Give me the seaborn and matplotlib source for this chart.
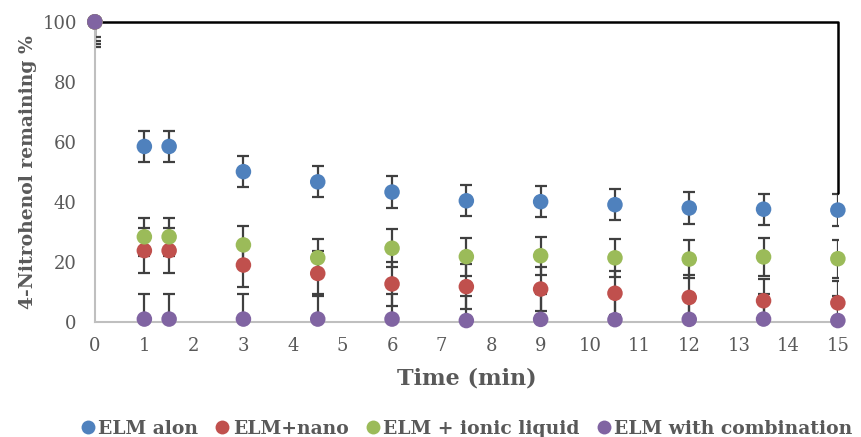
import matplotlib
matplotlib.use("Agg")
import matplotlib.pyplot as plt
import seaborn as sns
import pandas as pd
import numpy as np

# Sampling times (min)
time_min = [0, 1, 1.5, 3, 4.5, 6, 7.5, 9, 10.5, 12, 13.5, 15]

# Remaining 4-nitrophenol (%) for each membrane system
elm_alone = [100, 58.5, 58.5, 50.1, 46.7, 43.3, 40.4, 40.1, 39.1, 38.0, 37.6, 37.3]
elm_nano = [100, 23.8, 23.8, 19.0, 16.2, 12.7, 11.8, 11.0, 9.6, 8.2, 7.1, 6.4]
elm_ionic = [100, 28.4, 28.4, 25.7, 21.4, 24.6, 21.8, 22.1, 21.4, 21.0, 21.7, 21.1]
elm_combo = [100, 1.0, 1.0, 1.0, 1.0, 1.0, 0.5, 0.9, 0.8, 0.9, 1.0, 0.5]

# Error bar half-widths (one value per series)
err_alone = 5.2
err_nano = 7.4
err_ionic = 6.3
err_combo = 8.3

series_names = ["ELM alon", "ELM+nano", "ELM + ionic liquid", "ELM with combination"]
series_colors = ["#4F81BD", "#C0504D", "#9BBB59", "#8064A2"]

# Outline line drawn from the starting point
outline_x = [0, 15, 15]
outline_y = [100, 100, 43]

x_ticks = list(range(0, 16))
y_ticks = [0, 20, 40, 60, 80, 100]

values = [elm_alone, elm_nano, elm_ionic, elm_combo]
errors = [err_alone, err_nano, err_ionic, err_combo]

df = pd.concat(
    [pd.DataFrame({"time": time_min, "remaining": v, "system": n, "err": e})
     for v, n, e in zip(values, series_names, errors)],
    ignore_index=True,
)

sns.set_theme(style="white")
plt.rcParams["font.family"] = ["DejaVu Serif"]
text_color = "#595959"

fig = plt.figure(figsize=(8.62, 4.37), dpi=100)
ax = fig.add_axes([0.110, 0.263, 0.862, 0.687])

for name in series_names:
    sub = df[df["system"] == name]
    ax.errorbar(sub["time"], sub["remaining"], yerr=sub["err"], fmt="none",
                ecolor="#404040", elinewidth=1.6, capsize=4, capthick=1.6, zorder=2)

ax.plot(outline_x, outline_y, color="black", lw=1.8, zorder=2, clip_on=False)

sns.scatterplot(data=df, x="time", y="remaining", hue="system",
                hue_order=series_names, palette=series_colors, s=125,
                linewidth=0, ax=ax, zorder=3, clip_on=False, legend=False)

ax.set_xlim(0, 15)
ax.set_ylim(0, 100)
ax.set_xticks(x_ticks)
ax.set_yticks(y_ticks)
ax.tick_params(axis="both", length=0, labelsize=13, labelcolor=text_color)
ax.tick_params(axis="y", pad=13)
ax.tick_params(axis="x", pad=11)

for side in ["top", "right"]:
    ax.spines[side].set_visible(False)
for side in ["left", "bottom"]:
    ax.spines[side].set_color("#BFBFBF")
    ax.spines[side].set_linewidth(1.5)

ax.set_xlabel("Time (min)", fontsize=16, fontweight="bold", color=text_color, labelpad=9)
ax.set_ylabel("4-Nitrohenol remaining %", fontsize=13.5, fontweight="bold",
              color=text_color, labelpad=4)

handles = [plt.Line2D([], [], marker="o", linestyle="none", markersize=10,
                      markerfacecolor=c, markeredgewidth=0) for c in series_colors]
leg = fig.legend(handles, series_names, loc="lower center", ncol=4,
                 bbox_to_anchor=(0.54, -0.04), frameon=False, handletextpad=0.05,
                 columnspacing=0.8, handlelength=1.0,
                 prop={"size": 13.5, "weight": "bold"})
for t in leg.get_texts():
    t.set_color(text_color)

fig.savefig("out.png", dpi=100)
